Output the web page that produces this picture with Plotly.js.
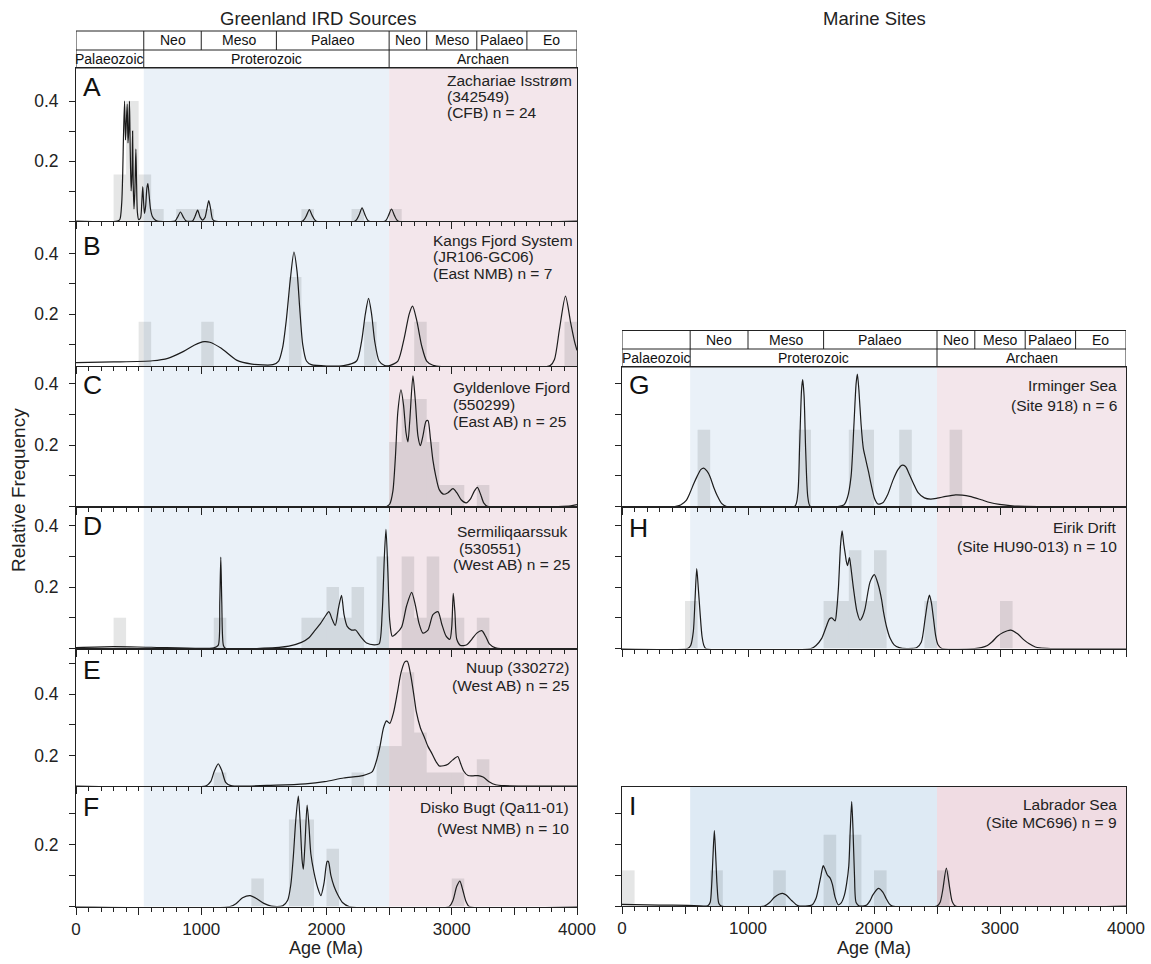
<!DOCTYPE html>
<html><head><meta charset="utf-8">
<script src="https://cdn.plot.ly/plotly-3.0.1.min.js"></script>
<style>html,body{margin:0;padding:0;background:#fff}#chart{width:1151px;height:964px}</style>
</head><body><div id="chart"></div>
<script>
// ================= DATA =================
// KDE curves: [age (Ma), relative frequency as read on each panel's axis]
const kdeA = [[0,0],[330,0],[350,0.005],[365,0.06],[373,0.16],[380,0.3],[388,0.40],[395,0.27],[402,0.33],[409,0.39],[415,0.26],[421,0.30],[427,0.40],[433,0.24],[440,0.10],[447,0.16],[452,0.30],[457,0.12],[463,0.04],[470,0.10],[478,0.24],[484,0.12],[490,0.03],[500,0.005],[515,0.01],[525,0.06],[533,0.115],[540,0.06],[547,0.025],[556,0.05],[566,0.11],[574,0.125],[583,0.09],[595,0.04],[610,0.015],[630,0.004],[650,0],[790,0],[810,0.012],[834,0.03],[858,0.012],[880,0],[930,0],[950,0.015],[971,0.036],[992,0.012],[1010,0.003],[1030,0.012],[1045,0.04],[1060,0.068],[1075,0.04],[1090,0.006],[1110,0],[1810,0],[1840,0.018],[1863,0.038],[1886,0.018],[1915,0],[2230,0],[2260,0.02],[2284,0.044],[2308,0.02],[2335,0],[2470,0],[2495,0.018],[2519,0.04],[2543,0.018],[2570,0],[4000,0]];
const kdeB = [[0,0.040],[300,0.042],[611,0.046],[733,0.054],[855,0.076],[947,0.098],[1023,0.109],[1069,0.107],[1160,0.087],[1282,0.048],[1405,0.035],[1572,0.033],[1618,0.045],[1650,0.09],[1679,0.18],[1710,0.31],[1740,0.405],[1765,0.34],[1786,0.22],[1810,0.10],[1840,0.045],[1878,0.033],[2137,0.030],[2240,0.045],[2280,0.11],[2310,0.2],[2336,0.252],[2360,0.2],[2385,0.11],[2420,0.045],[2460,0.031],[2504,0.030],[2570,0.045],[2620,0.12],[2660,0.2],[2687,0.226],[2720,0.18],[2760,0.095],[2800,0.045],[2850,0.031],[3786,0.030],[3820,0.05],[3860,0.15],[3908,0.259],[3950,0.17],[3980,0.11],[4000,0.08]];
const kdeC = [[0,0],[2480,0],[2505,0.008],[2530,0.05],[2550,0.16],[2570,0.31],[2595,0.38],[2615,0.33],[2635,0.24],[2650,0.21],[2665,0.28],[2690,0.425],[2710,0.34],[2730,0.23],[2750,0.198],[2770,0.23],[2795,0.278],[2810,0.28],[2830,0.22],[2850,0.15],[2872,0.10],[2900,0.055],[2936,0.04],[2970,0.045],[3010,0.058],[3040,0.045],[3075,0.022],[3115,0.012],[3150,0.025],[3180,0.05],[3205,0.062],[3230,0.04],[3255,0.012],[3285,0.001],[3850,0],[3950,0.002],[4000,0.006]];
const kdeD = [[0,0.003],[300,0.006],[600,0.004],[1100,0.002],[1135,0.01],[1148,0.15],[1156,0.298],[1164,0.15],[1177,0.01],[1195,0],[1500,0.001],[1700,0.008],[1800,0.02],[1860,0.035],[1900,0.055],[1950,0.08],[1990,0.105],[2019,0.12],[2045,0.095],[2070,0.075],[2095,0.13],[2120,0.173],[2140,0.11],[2165,0.072],[2200,0.06],[2232,0.06],[2270,0.04],[2320,0.018],[2380,0.012],[2420,0.015],[2445,0.12],[2462,0.3],[2475,0.388],[2490,0.25],[2505,0.09],[2525,0.04],[2560,0.05],[2600,0.07],[2640,0.14],[2680,0.183],[2710,0.14],[2740,0.08],[2770,0.05],[2810,0.06],[2850,0.11],[2890,0.12],[2920,0.08],[2955,0.04],[2985,0.03],[3000,0.07],[3012,0.18],[3025,0.12],[3040,0.03],[3070,0.01],[3120,0.012],[3160,0.03],[3200,0.05],[3240,0.058],[3270,0.04],[3300,0.015],[3350,0.002],[4000,0]];
const kdeE = [[0,0.101],[1040,0.102],[1075,0.115],[1105,0.15],[1136,0.173],[1165,0.15],[1195,0.113],[1237,0.102],[1600,0.104],[1832,0.108],[1985,0.115],[2137,0.127],[2290,0.135],[2366,0.148],[2400,0.185],[2427,0.23],[2455,0.29],[2479,0.313],[2505,0.305],[2535,0.34],[2565,0.403],[2595,0.47],[2625,0.505],[2645,0.507],[2672,0.463],[2700,0.39],[2717,0.343],[2750,0.29],[2779,0.262],[2810,0.23],[2840,0.208],[2875,0.18],[2901,0.166],[2935,0.167],[2970,0.172],[3008,0.186],[3048,0.197],[3070,0.175],[3095,0.150],[3130,0.135],[3170,0.134],[3210,0.135],[3250,0.13],[3298,0.115],[3350,0.105],[3420,0.102],[4000,0.101]];
const kdeF = [[0,0],[1230,0],[1280,0.01],[1330,0.028],[1390,0.035],[1440,0.026],[1500,0.01],[1560,0.001],[1650,0.002],[1690,0.02],[1715,0.07],[1735,0.16],[1755,0.28],[1775,0.356],[1790,0.27],[1805,0.15],[1815,0.12],[1828,0.2],[1845,0.327],[1860,0.26],[1875,0.17],[1900,0.11],[1930,0.06],[1955,0.035],[1980,0.075],[2005,0.145],[2015,0.145],[2035,0.1],[2060,0.065],[2090,0.038],[2130,0.012],[2180,0],[2980,0],[3010,0.02],[3040,0.065],[3065,0.082],[3090,0.05],[3115,0.015],[3140,0],[4000,0]];
const kdeG = [[0,0],[420,0],[465,0.005],[510,0.02],[538,0.043],[570,0.075],[596,0.098],[625,0.12],[649,0.125],[675,0.115],[698,0.098],[730,0.06],[756,0.035],[790,0.01],[830,0],[1370,0],[1395,0.04],[1410,0.2],[1425,0.38],[1434,0.413],[1445,0.36],[1458,0.18],[1475,0.03],[1495,0],[1760,0.005],[1790,0.03],[1818,0.098],[1840,0.26],[1858,0.4],[1868,0.431],[1880,0.38],[1897,0.27],[1915,0.19],[1935,0.152],[1958,0.11],[1978,0.07],[2005,0.025],[2031,0.008],[2070,0.012],[2110,0.04],[2150,0.085],[2190,0.12],[2220,0.134],[2250,0.13],[2280,0.105],[2313,0.075],[2350,0.045],[2400,0.028],[2450,0.024],[2502,0.027],[2570,0.033],[2647,0.038],[2700,0.037],[2760,0.033],[2851,0.022],[2920,0.013],[2996,0.007],[3080,0.003],[3142,0.001],[3300,0],[4000,0]];
const kdeH = [[0,0],[520,0],[545,0.01],[566,0.055],[580,0.163],[593,0.26],[605,0.2],[619,0.12],[635,0.04],[650,0.01],[665,0],[1500,0],[1540,0.01],[1585,0.033],[1620,0.07],[1646,0.096],[1665,0.1],[1691,0.09],[1705,0.13],[1718,0.2],[1735,0.34],[1747,0.383],[1760,0.34],[1771,0.31],[1780,0.285],[1790,0.27],[1805,0.296],[1815,0.27],[1837,0.196],[1865,0.12],[1890,0.092],[1910,0.105],[1929,0.13],[1969,0.217],[2003,0.241],[2035,0.206],[2060,0.16],[2075,0.12],[2100,0.07],[2128,0.033],[2160,0.012],[2200,0.003],[2260,0],[2340,0.003],[2375,0.02],[2406,0.098],[2425,0.15],[2440,0.174],[2455,0.15],[2472,0.098],[2490,0.04],[2507,0.013],[2538,0],[2800,0],[2851,0.003],[2900,0.01],[2938,0.022],[2980,0.04],[3025,0.052],[3084,0.06],[3142,0.047],[3190,0.028],[3229,0.016],[3280,0.005],[3316,0.002],[3400,0],[4000,0]];
const kdeI = [[0,0.005],[300,0.003],[522,0.002],[681,0.001],[700,0.012],[712,0.07],[722,0.16],[733,0.243],[744,0.16],[754,0.07],[768,0.009],[788,0],[1130,0],[1174,0.012],[1210,0.028],[1246,0.038],[1275,0.041],[1300,0.036],[1348,0.017],[1380,0.005],[1406,0],[1507,0.003],[1540,0.025],[1565,0.07],[1580,0.1],[1597,0.13],[1612,0.118],[1630,0.1],[1652,0.09],[1670,0.07],[1690,0.03],[1716,0.004],[1740,0.01],[1765,0.035],[1783,0.073],[1800,0.13],[1812,0.25],[1823,0.337],[1833,0.25],[1845,0.1],[1858,0.011],[1884,0],[1942,0.003],[1970,0.018],[1990,0.035],[2035,0.057],[2070,0.045],[2095,0.025],[2120,0.008],[2145,0],[2500,0],[2525,0.012],[2545,0.05],[2574,0.122],[2600,0.06],[2620,0.015],[2645,0],[4000,0]];

// Histogram bins (start age of 100 Ma bin) and bar heights
const binsA = [300,400,500,600,800,900,1000,1800,2200,2500];
const freqA = [0.155,0.40,0.155,0.04,0.04,0.04,0.04,0.04,0.04,0.04];
const binsB = [500,1000,1700,2300,2700,3900];
const freqB = [0.146,0.146,0.294,0.146,0.146,0.146];
const binsC = [2500,2600,2700,2800,2900,3000,3200];
const freqC = [0.21,0.35,0.35,0.21,0.07,0.07,0.07];
const binsD = [300,1100,1800,1900,2000,2100,2200,2400,2600,2700,2800,2900,3000,3200];
const freqD = [0.1,0.1,0.1,0.1,0.2,0.1,0.2,0.3,0.3,0.1,0.3,0.1,0.1,0.1];
const binsE = [1100,2200,2400,2500,2600,2700,2800,2900,3000,3200];
const freqE = [0.044,0.044,0.13,0.13,0.37,0.174,0.044,0.044,0.044,0.087];
const binsF = [1400,1700,1800,2000,3000];
const freqF = [0.09,0.28,0.28,0.186,0.09];
const binsG = [600,1400,1800,1900,2200,2600];
const freqG = [0.25,0.25,0.25,0.25,0.25,0.25];
const binsH = [500,1600,1700,1800,1900,2000,2400,3000];
const freqH = [0.155,0.155,0.155,0.32,0.155,0.32,0.155,0.155];
const binsI = [0,700,1200,1600,1800,2000,2500];
const freqI = [0.115,0.115,0.115,0.23,0.23,0.115,0.115];

// Site labels
const labelA = ['Zachariae Isstrøm','(342549)','(CFB) n = 24'];
const labelB = ['Kangs Fjord System','(JR106-GC06)','(East NMB) n = 7'];
const labelC = ['Gyldenlove Fjord','(550299)','(East AB) n = 25'];
const labelD = ['Sermiliqaarssuk','(530551)','(West AB) n = 25'];
const labelE = ['Nuup (330272)','(West AB) n = 25'];
const labelF = ['Disko Bugt (Qa11-01)','(West NMB) n = 10'];
const labelG = ['Irminger Sea','(Site 918) n = 6'];
const labelH = ['Eirik Drift','(Site HU90-013) n = 10'];
const labelI = ['Labrador Sea','(Site MC696) n = 9'];

// Geological time scale
const periodEdges = [0,541,1000,1600,2500,2800,3200,3600,4000];
const periodNames = ['','Neo','Meso','Palaeo','Neo','Meso','Palaeo','Eo'];
const eonEdges = [0,541,2500,4000];
const eonNames = ['Palaeozoic','Proterozoic','Archaen'];

// Axis ticks
const xTickVals = [0,500,1000,1500,2000,2500,3000,3500,4000];
const xTickText = ['0','','1000','','2000','','3000','','4000'];

// ================= LAYOUT =================
const W = 1151, H = 964;
const px = x => x / W;
const py = y => 1 - y / H;
const FONT = 'Liberation Sans, Arial, Helvetica, sans-serif';
const INK = '#222222';
const COL = {L: [76, 577], R: [622, 1126]};
const SHADE = {
  normal: {blue: '#eaf1f8', pink: '#f3e6eb'},
  strong: {blue: '#deeaf4', pink: '#f0dce3'}
};

const panels = [
  {letter:'A', col:'L', top:68,  bot:221,   range:[0,0.51],     yt:[0,0.1,0.2,0.3,0.4], yl:['','','0.2','','0.4'], kde:kdeA, bins:binsA, freq:freqA, label:labelA, align:'left', lx:[445,445,445], ly:[80,96.5,112], letY:86.5, shade:'normal', xlab:false},
  {letter:'B', col:'L', top:222, bot:366,   range:[0.0286,0.504], yt:[0.1,0.2,0.3,0.4], yl:['','0.2','','0.4'], kde:kdeB, bins:binsB, freq:freqB, label:labelB, align:'left', lx:[431,431,431], ly:[240.7,256.7,273.3], letY:246, shade:'normal', xlab:false},
  {letter:'C', col:'L', top:367, bot:506.5, range:[0,0.454],    yt:[0,0.1,0.2,0.3,0.4], yl:['','','0.2','','0.4'], kde:kdeC, bins:binsC, freq:freqC, label:labelC, align:'left', lx:[451,451,451], ly:[387.3,404.3,421.7], letY:384.5, shade:'normal', xlab:false},
  {letter:'D', col:'L', top:507, bot:648.5, range:[0,0.461],    yt:[0,0.1,0.2,0.3,0.4], yl:['','','0.2','','0.4'], kde:kdeD, bins:binsD, freq:freqD, label:labelD, align:'left', lx:[455,457,451], ly:[531.7,548.3,564.3], letY:526, shade:'normal', xlab:false},
  {letter:'E', col:'L', top:649, bot:786,   range:[0.101,0.547], yt:[0.1,0.2,0.3,0.4,0.5], yl:['','0.2','','0.4',''], kde:kdeE, bins:binsE, freq:freqE, label:labelE, align:'right', lx:[571,571], ly:[667.3,685], letY:670, shade:'normal', xlab:false},
  {letter:'F', col:'L', top:787, bot:906.5, range:[0,0.385],    yt:[0,0.1,0.2,0.3], yl:['','','0.2',''], kde:kdeF, bins:binsF, freq:freqF, label:labelF, align:'right', lx:[571,571], ly:[807.7,828.3], letY:806.7, shade:'normal', xlab:true},
  {letter:'G', col:'R', top:367, bot:506.5, range:[0,0.454],    yt:[0,0.1,0.2,0.3,0.4], yl:['','','','',''], kde:kdeG, bins:binsG, freq:freqG, label:labelG, align:'right', lx:[1119,1119], ly:[385.7,405], letY:384.5, shade:'normal', xlab:false},
  {letter:'H', col:'R', top:507, bot:648.5, range:[0,0.461],    yt:[0,0.1,0.2,0.3,0.4], yl:['','','','',''], kde:kdeH, bins:binsH, freq:freqH, label:labelH, align:'right', lx:[1119,1119], ly:[527.7,546.7], letY:528, shade:'normal', xlab:false},
  {letter:'I', col:'R', top:787, bot:906,   range:[0,0.384],    yt:[0,0.1,0.2,0.3], yl:['','','',''], kde:kdeI, bins:binsI, freq:freqI, label:labelI, align:'right', lx:[1119,1119], ly:[804.3,822.7], letY:805.5, shade:'strong', xlab:true}
];

const layout = {
  width: W, height: H,
  margin: {l:0, r:0, t:0, b:0},
  paper_bgcolor: '#ffffff', plot_bgcolor: 'rgba(0,0,0,0)',
  showlegend: false, barmode: 'overlay',
  font: {family: FONT, color: INK},
  shapes: [], annotations: []
};
const traces = [];

panels.forEach((p, i) => {
  const n = i + 1;
  const xr = n === 1 ? 'x' : 'x' + n;
  const yr = n === 1 ? 'y' : 'y' + n;
  const xk = n === 1 ? 'xaxis' : 'xaxis' + n;
  const yk = n === 1 ? 'yaxis' : 'yaxis' + n;
  const c = COL[p.col];
  layout[xk] = {
    domain: [px(c[0]), px(c[1])], range: [0, 4000], anchor: yr,
    showline: true, mirror: true, linecolor: INK, linewidth: 1,
    showgrid: false, zeroline: false,
    tickmode: 'array', tickvals: xTickVals, ticktext: xTickText,
    ticks: 'outside', ticklen: 7, tickwidth: 1, tickcolor: INK,
    minor: {tickmode: 'linear', tick0: 0, dtick: 100, ticks: 'outside', ticklen: 4, tickwidth: 1, tickcolor: INK, showgrid: false},
    showticklabels: p.xlab, ticklabelstandoff: 0,
    tickfont: {family: FONT, size: 17, color: INK}, fixedrange: true
  };
  layout[yk] = {
    domain: [py(p.bot), py(p.top)], range: p.range, anchor: xr,
    showline: true, mirror: true, linecolor: INK, linewidth: 1,
    showgrid: false, zeroline: false,
    tickmode: 'array', tickvals: p.yt, ticktext: p.yl,
    ticks: 'outside', ticklen: 6, tickwidth: 1, tickcolor: INK,
    ticklabelstandoff: 7,
    tickfont: {family: FONT, size: 17.5, color: INK}, fixedrange: true
  };
  const sh = SHADE[p.shade];
  layout.shapes.push({type:'rect', layer:'below', xref:xr, yref:yr+' domain', x0:eonEdges[1], x1:eonEdges[2], y0:0, y1:1, fillcolor:sh.blue, line:{width:0}});
  layout.shapes.push({type:'rect', layer:'below', xref:xr, yref:yr+' domain', x0:eonEdges[2], x1:eonEdges[3], y0:0, y1:1, fillcolor:sh.pink, line:{width:0}});

  traces.push({
    type:'bar', xaxis:xr, yaxis:yr,
    x: p.bins.map(b => b + 50), y: p.freq, base: p.range[0], width: 100,
    marker: {color:'rgba(20,25,30,0.11)', line:{width:0}}, hoverinfo:'skip'
  });
  traces.push({
    type:'scatter', mode:'lines', xaxis:xr, yaxis:yr,
    x: p.kde.map(q => q[0]), y: p.kde.map(q => q[1]),
    line: {color:'#1c1c1c', width:1.2, shape:'spline', smoothing:0.7},
    cliponaxis: true, hoverinfo:'skip'
  });

  layout.annotations.push({
    xref:'paper', yref:'paper', x:px(c[0] + 5), y:py(p.letY), xanchor:'left', yanchor:'middle',
    text:p.letter, showarrow:false, font:{family:FONT, size:26.5, color:'#111'}
  });
  p.label.forEach((t, k) => {
    layout.annotations.push({
      xref:'paper', yref:'paper', x:px(p.lx[k]), y:py(p.ly[k]), xanchor:p.align, yanchor:'middle',
      text:t, showarrow:false, font:{family:FONT, size:15.5, color:INK}
    });
  });
});

// Time-scale header boxes
function header(xr, top, mid, bot) {
  layout.shapes.push({type:'rect', xref:xr, yref:'paper', x0:0, x1:4000, y0:py(bot), y1:py(top), line:{color:INK, width:1}, fillcolor:'rgba(0,0,0,0)'});
  layout.shapes.push({type:'line', xref:xr, yref:'paper', x0:0, x1:4000, y0:py(mid), y1:py(mid), line:{color:INK, width:1}});
  for (let k = 1; k < periodEdges.length - 1; k++) {
    layout.shapes.push({type:'line', xref:xr, yref:'paper', x0:periodEdges[k], x1:periodEdges[k], y0:py(mid), y1:py(top), line:{color:INK, width:1}});
  }
  for (let k = 1; k < eonEdges.length - 1; k++) {
    layout.shapes.push({type:'line', xref:xr, yref:'paper', x0:eonEdges[k], x1:eonEdges[k], y0:py(bot), y1:py(mid), line:{color:INK, width:1}});
  }
  periodNames.forEach((t, k) => {
    if (!t) return;
    layout.annotations.push({xref:xr, yref:'paper', x:(periodEdges[k] + periodEdges[k+1]) / 2, y:py((top + mid) / 2),
      xanchor:'center', yanchor:'middle', text:t, showarrow:false, font:{family:FONT, size:14, color:'#111'}});
  });
  eonNames.forEach((t, k) => {
    layout.annotations.push({xref:xr, yref:'paper', x:(eonEdges[k] + eonEdges[k+1]) / 2, y:py((mid + bot) / 2),
      xanchor:'center', yanchor:'middle', text:t, showarrow:false, font:{family:FONT, size:14, color:'#111'}});
  });
}
header('x', 31, 50, 68);
header('x7', 330.5, 349, 367);

// Column titles and axis titles
const txt = (t, x, y, size, angle) => layout.annotations.push({xref:'paper', yref:'paper', x:px(x), y:py(y),
  xanchor:'center', yanchor:'middle', text:t, showarrow:false, textangle:angle || 0, font:{family:FONT, size:size, color:INK}});
txt('Greenland IRD Sources', 318, 18, 18.5);
txt('Marine Sites', 874, 18, 18.5);
txt('Relative Frequency', 18, 490, 19, -90);
txt('Age (Ma)', 326, 948, 18);
txt('Age (Ma)', 874, 948, 18);

Plotly.newPlot('chart', traces, layout, {displayModeBar:false, staticPlot:true});
</script>
</body></html>
